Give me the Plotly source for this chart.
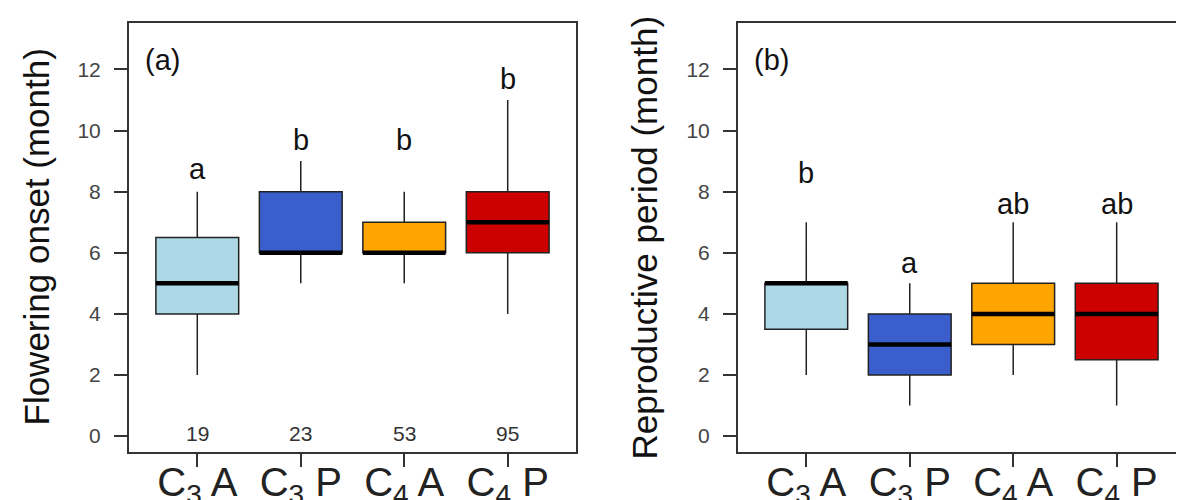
import plotly.graph_objects as go

# ---------------- data ----------------
groups = ["C<sub>3</sub> A", "C<sub>3</sub> P", "C<sub>4</sub> A", "C<sub>4</sub> P"]
positions = [1, 2, 3, 4]
colors = ["#ADD8E6", "#3A5FCD", "#FFA500", "#CD0000"]
sample_sizes = ["19", "23", "53", "95"]

# (a) Flowering onset (month)
onset_low = [2, 5, 5, 4]
onset_q1 = [4, 6, 6, 6]
onset_median = [5, 6, 6, 7]
onset_q3 = [6.5, 8, 7, 8]
onset_high = [8, 9, 8, 11]
onset_letters = ["a", "b", "b", "b"]
onset_letter_y = [8.75, 9.7, 9.7, 11.7]

# (b) Reproductive period (month)
period_low = [2, 1, 2, 1]
period_q1 = [3.5, 2, 3, 2.5]
period_median = [5, 3, 4, 4]
period_q3 = [5, 4, 5, 5]
period_high = [7, 5, 7, 7]
period_letters = ["b", "a", "ab", "ab"]
period_letter_y = [8.6, 5.65, 7.6, 7.6]

y_ticks = [0, 2, 4, 6, 8, 10, 12]

# ---------------- figure ----------------
# the page body has an 8px default margin, so the figure is sized to fit
OFF = 8
W, H = 1184 - OFF, 500 - OFF
FONT = "Liberation Sans, Arial, sans-serif"
BOXW = 0.8


def px_x(sx):
    return (sx - OFF) / W


def px_y(sy):
    return 1 - (sy - OFF) / H


fig = go.Figure()


def add_panel(xa, ya, low, q1, med, q3, high):
    for i, p in enumerate(positions):
        fig.add_trace(go.Box(
            x=[p], q1=[q1[i]], median=[med[i]], q3=[q3[i]],
            lowerfence=[low[i]], upperfence=[high[i]],
            width=BOXW, whiskerwidth=0, boxpoints=False,
            fillcolor=colors[i], line=dict(color="#222222", width=1.5),
            xaxis=xa, yaxis=ya, showlegend=False, hoverinfo="skip",
        ))
    mx, my = [], []
    for i, p in enumerate(positions):
        mx += [p - BOXW / 2, p + BOXW / 2, None]
        my += [med[i], med[i], None]
    fig.add_trace(go.Scatter(x=mx, y=my, mode="lines",
                             line=dict(color="black", width=4.5),
                             xaxis=xa, yaxis=ya, showlegend=False,
                             hoverinfo="skip"))


add_panel("x", "y", onset_low, onset_q1, onset_median, onset_q3, onset_high)
add_panel("x2", "y2", period_low, period_q1, period_median, period_q3, period_high)

ydom = [px_y(452), px_y(23)]
xdom1 = [px_x(129), px_x(576)]
xdom2 = [px_x(738), min(1.0, px_x(1183.4))]

axis_common = dict(showgrid=False, zeroline=False, showline=True,
                   linecolor="#333333", linewidth=2, automargin=False,
                   ticks="outside", ticklen=13, tickwidth=1.5, tickcolor="#333333")

xaxis_common = dict(axis_common, tickvals=positions, ticktext=groups,
                    tickfont=dict(family=FONT, size=40, color="#222222"),
                    ticklabelstandoff=-19, mirror=True)
yaxis_common = dict(axis_common, range=[-0.52, 13.52], tickvals=y_ticks,
                    tickfont=dict(family=FONT, size=21, color="#444444"),
                    ticklabelstandoff=9, mirror=True)

fig.update_layout(
    width=W, height=H,
    margin=dict(l=0, r=0, t=0, b=0),
    paper_bgcolor="white", plot_bgcolor="white",
    xaxis=dict(xaxis_common, domain=xdom1, range=[0.34, 4.66]),
    yaxis=dict(yaxis_common, domain=ydom, anchor="x"),
    xaxis2=dict(xaxis_common, domain=xdom2, range=[0.34, 4.645], anchor="y2"),
    yaxis2=dict(yaxis_common, domain=ydom, anchor="x2"),
)

ann = []
for xr, yr, letters, ly in (("x", "y", onset_letters, onset_letter_y),
                            ("x2", "y2", period_letters, period_letter_y)):
    for i, p in enumerate(positions):
        ann.append(dict(x=p, y=ly[i], xref=xr, yref=yr, text=letters[i],
                        showarrow=False, font=dict(family=FONT, size=29, color="#111111")))

for i, p in enumerate(positions):
    ann.append(dict(x=p, y=0.1, xref="x", yref="y", text=sample_sizes[i],
                    showarrow=False, font=dict(family=FONT, size=21, color="#333333")))

ann.append(dict(x=0.48, y=12.3, xref="x", yref="y", text="(a)", xanchor="left",
                showarrow=False, font=dict(family=FONT, size=29, color="#111111")))
ann.append(dict(x=0.48, y=12.3, xref="x2", yref="y2", text="(b)", xanchor="left",
                showarrow=False, font=dict(family=FONT, size=29, color="#111111")))

ycenter = (ydom[0] + ydom[1]) / 2
ann.append(dict(x=px_x(36), y=ycenter, xref="paper", yref="paper",
                text="Flowering onset (month)", textangle=-90, showarrow=False,
                xanchor="center", yanchor="middle",
                font=dict(family=FONT, size=35, color="#111111")))
ann.append(dict(x=px_x(644), y=ycenter, xref="paper", yref="paper",
                text="Reproductive period (month)", textangle=-90, showarrow=False,
                xanchor="center", yanchor="middle",
                font=dict(family=FONT, size=35, color="#111111")))

fig.update_layout(annotations=ann)

fig.write_html("out.html")
